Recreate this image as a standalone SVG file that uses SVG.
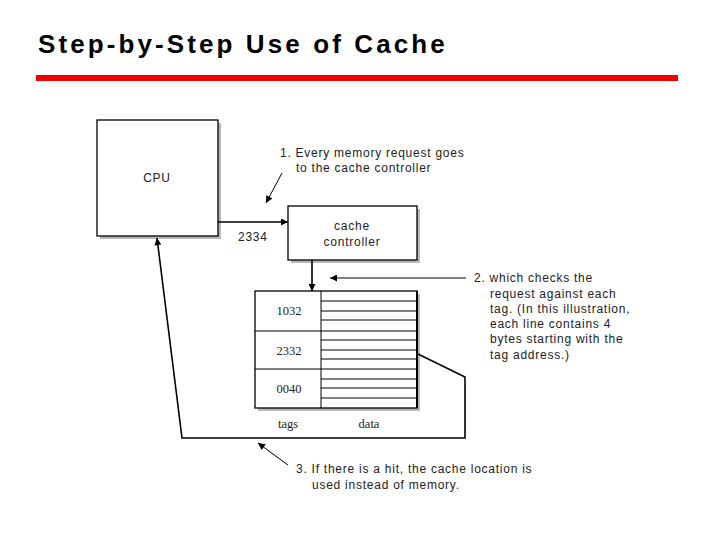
<svg xmlns="http://www.w3.org/2000/svg" width="720" height="540" viewBox="0 0 720 540">
<defs>
<marker id="ah" viewBox="0 0 10 10" refX="10" refY="5" markerWidth="9" markerHeight="7" markerUnits="userSpaceOnUse" orient="auto">
<path d="M0,0 L10,5 L0,10 z" fill="#000"/>
</marker>
</defs>
<style>
.box{fill:#fff;stroke:#000;stroke-width:1.3}
.shadow{fill:#b8b8b8}
.lbl{font-family:"Liberation Sans",Arial,sans-serif;font-size:12px;letter-spacing:0.75px;fill:#222}
.ser{font-family:"Liberation Serif","Times New Roman",serif;font-size:12.5px;fill:#222}
.ln{stroke:#000;stroke-width:1;fill:none}
.con{stroke:#000;stroke-width:1.6;fill:none}
</style>
<rect width="720" height="540" fill="#fff"/>
<text x="38" y="53" font-family="Liberation Sans,Arial,sans-serif" font-weight="bold" font-size="26" letter-spacing="3.1" fill="#000">Step-by-Step Use of Cache</text>
<rect x="36" y="75" width="642" height="6" fill="#ee0000"/>

<g id="cpu">
<rect class="shadow" x="100" y="123" width="121" height="116"/>
<rect class="box" x="97" y="120" width="121" height="116"/>
<text class="lbl" x="157" y="182" text-anchor="middle">CPU</text>
</g>

<g id="controller">
<rect class="shadow" x="291" y="209" width="129" height="54"/>
<rect class="box" x="288" y="206" width="129" height="54"/>
<text class="lbl" x="352" y="230" text-anchor="middle">cache</text>
<text class="lbl" x="352" y="246" text-anchor="middle">controller</text>
</g>

<g id="cache">
<rect class="shadow" x="258" y="294" width="162" height="117"/>
<rect class="box" x="255" y="291" width="162" height="117"/>
<line class="ln" x1="321" y1="291" x2="321" y2="408"/>
<line class="ln" x1="255" y1="331" x2="417" y2="331"/>
<line class="ln" x1="255" y1="369" x2="417" y2="369"/>
<g class="ln">
<line x1="321" y1="301" x2="417" y2="301"/>
<line x1="321" y1="311" x2="417" y2="311"/>
<line x1="321" y1="320" x2="417" y2="320"/>
<line x1="321" y1="340" x2="417" y2="340"/>
<line x1="321" y1="350" x2="417" y2="350"/>
<line x1="321" y1="359" x2="417" y2="359"/>
<line x1="321" y1="379" x2="417" y2="379"/>
<line x1="321" y1="388" x2="417" y2="388"/>
<line x1="321" y1="398" x2="417" y2="398"/>
</g>
<line x1="417" y1="291" x2="417" y2="408" stroke="#000" stroke-width="2"/>
<text class="ser" x="289" y="315" text-anchor="middle">1032</text>
<text class="ser" x="289" y="355" text-anchor="middle">2332</text>
<text class="ser" x="289" y="393" text-anchor="middle">0040</text>
<text class="ser" x="288" y="428" text-anchor="middle">tags</text>
<text class="ser" x="369" y="428" text-anchor="middle">data</text>
</g>

<g id="connectors">
<line class="con" x1="218" y1="222" x2="288" y2="222" marker-end="url(#ah)"/>
<line class="con" x1="312" y1="260" x2="312" y2="291" marker-end="url(#ah)"/>
<polyline class="con" points="418,354 465,377 465,438 182,438 157,238" marker-end="url(#ah)"/>
<line class="ln" x1="282" y1="173" x2="266" y2="203" marker-end="url(#ah)"/>
<line class="ln" x1="466" y1="278" x2="330" y2="278" marker-end="url(#ah)"/>
<line class="ln" x1="288" y1="465" x2="258" y2="443" marker-end="url(#ah)"/>
</g>

<g id="labels">
<text class="lbl" x="238" y="241">2334</text>
<text class="lbl" x="280" y="157">1. Every memory request goes</text>
<text class="lbl" x="296" y="172">to the cache controller</text>
<text class="lbl" x="474" y="282">2. which checks the</text>
<text class="lbl" x="490" y="298">request against each</text>
<text class="lbl" x="490" y="313">tag. (In this illustration,</text>
<text class="lbl" x="490" y="328">each line contains 4</text>
<text class="lbl" x="490" y="343">bytes starting with the</text>
<text class="lbl" x="490" y="359">tag address.)</text>
<text class="lbl" x="296" y="473">3. If there is a hit, the cache location is</text>
<text class="lbl" x="312" y="489">used instead of memory.</text>
</g>
</svg>
